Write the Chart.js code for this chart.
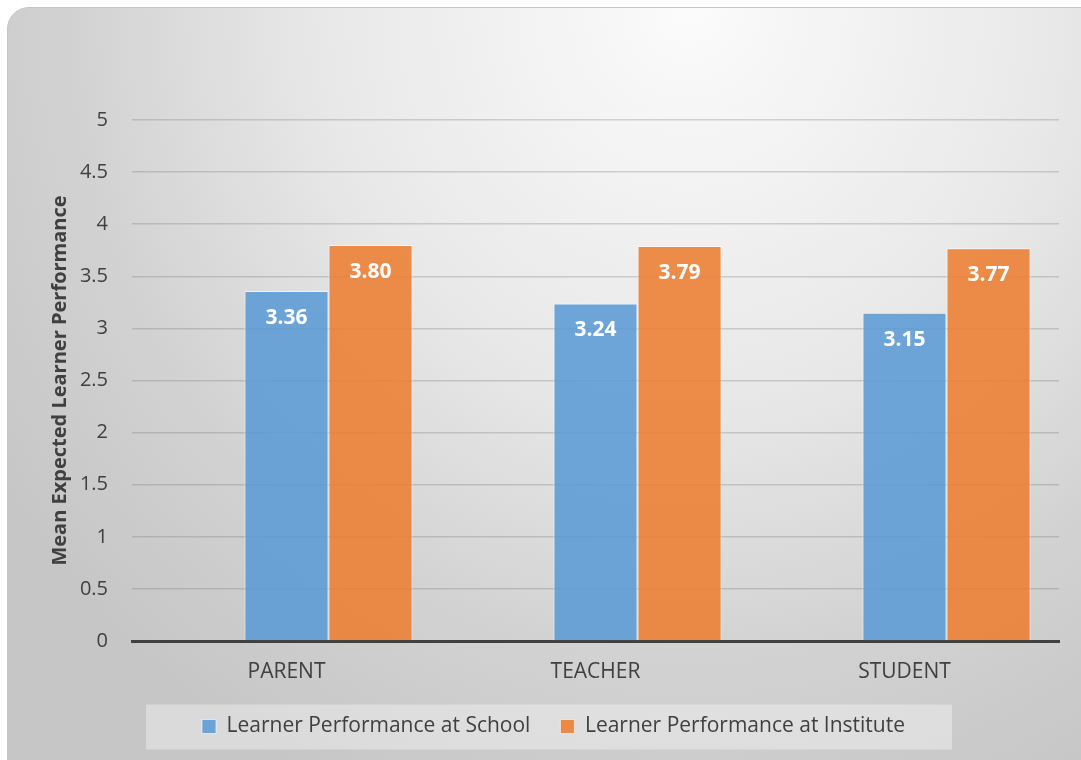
<!DOCTYPE html>
<html>
<head>
<meta charset="utf-8">
<script src="https://cdn.jsdelivr.net/npm/chart.js@4"></script>
<style>
    html, body { margin: 0; padding: 0; background: #fff; overflow: hidden; }
    #frame {
        position: absolute; left: 7px; top: 7px; width: 1100px; height: 790px;
        border: 1px solid #c4c4c4; border-radius: 22px;
        background: radial-gradient(ellipse 75% 110% at 62% 0%, #fbfbfb 0%, #e8e8e8 45%, #d2d2d2 75%, #c6c6c6 100%);
    }
    #wrap { position: absolute; left: 0; top: 0; width: 1081px; height: 760px; }
</style>
</head>
<body>
<div id="frame"></div>
<div id="wrap"><canvas id="chart"></canvas></div>
<script>
// 데이터
const categories = ['PARENT', 'TEACHER', 'STUDENT'];
const seriesNames = ['Learner Performance at School', 'Learner Performance at Institute'];
const schoolValues = [3.36, 3.24, 3.15];
const instituteValues = [3.80, 3.79, 3.77];
const emptyValues = [null, null, null]; // 원본의 빈 계열 (막대 위치 맞춤)
const yTicks = [0, 0.5, 1, 1.5, 2, 2.5, 3, 3.5, 4, 4.5, 5];

const FONT = '"Open Sans", sans-serif';

// 막대 안쪽 상단 값 표시
const valueLabels = {
    id: 'valueLabels',
    afterDatasetsDraw(chart) {
        const ctx = chart.ctx;
        ctx.save();
        ctx.fillStyle = '#ffffff';
        ctx.font = 'bold 21px ' + FONT;
        ctx.textAlign = 'center';
        ctx.textBaseline = 'middle';
        chart.data.datasets.forEach((ds, i) => {
            if (!ds.showValues) return;
            chart.getDatasetMeta(i).data.forEach((bar, j) => {
                if (ds.data[j] == null) return;
                ctx.fillText(ds.data[j].toFixed(2), bar.x, bar.y + 27);
            });
        });
        ctx.restore();
    }
};

// 범례 배경 상자
const legendBox = {
    id: 'legendBox',
    beforeDraw(chart) {
        const lg = chart.legend;
        if (!lg || !lg.legendHitBoxes.length) return;
        const boxes = lg.legendHitBoxes;
        const cy = boxes[0].top + boxes[0].height / 2;
        const left = boxes[0].left - 56;
        const right = boxes[boxes.length - 1].left + boxes[boxes.length - 1].width + 47;
        const ctx = chart.ctx;
        ctx.save();
        ctx.fillStyle = 'rgba(255,255,255,0.35)';
        ctx.fillRect(left, cy - 22, right - left, 45);
        ctx.restore();
    }
};

new Chart(document.getElementById('chart').getContext('2d'), {
    type: 'bar',
    data: {
        labels: categories,
        datasets: [
            {
                label: '',
                data: emptyValues,
                backgroundColor: 'rgba(0,0,0,0)',
                showValues: false,
            },
            {
                label: seriesNames[0],
                data: schoolValues,
                backgroundColor: 'rgba(91,155,213,0.88)',
                borderColor: 'rgba(255,255,255,0.6)',
                borderWidth: 1,
                showValues: true,
            },
            {
                label: seriesNames[1],
                data: instituteValues,
                backgroundColor: 'rgba(237,125,49,0.88)',
                borderColor: 'rgba(255,255,255,0.6)',
                borderWidth: 1,
                showValues: true,
            }
        ]
    },
    options: {
        responsive: true,
        maintainAspectRatio: false,
        animation: false,
        categoryPercentage: 0.816,
        barPercentage: 1.0,
        layout: {
            padding: { top: 120, right: 22, left: 48, bottom: 13 }
        },
        plugins: {
            legend: {
                position: 'bottom',
                labels: {
                    filter: item => item.text !== '',
                    boxWidth: 14,
                    boxHeight: 14,
                    padding: 30,
                    color: '#404040',
                    font: { family: FONT, size: 21 },
                    generateLabels(chart) {
                        const items = Chart.defaults.plugins.legend.labels.generateLabels(chart);
                        items.forEach(it => { it.strokeStyle = 'rgba(255,255,255,0.6)'; it.lineWidth = 1; });
                        return items;
                    }
                }
            },
            tooltip: { enabled: false }
        },
        scales: {
            x: {
                grid: { display: false },
                border: { color: '#404040', width: 3 },
                ticks: {
                    color: '#404040',
                    padding: 10,
                    font: { family: FONT, size: 21 }
                },
                afterFit(scale) { scale.height = 45; }
            },
            y: {
                min: 0,
                max: 5,
                afterBuildTicks(scale) { scale.ticks = yTicks.map(v => ({ value: v })); },
                grid: {
                    color: 'rgba(110,110,110,0.28)',
                    lineWidth: 1.5,
                    drawTicks: false
                },
                border: { display: false },
                ticks: {
                    color: '#404040',
                    padding: 24,
                    font: { family: FONT, size: 20 },
                    callback: v => String(v)
                },
                title: {
                    display: true,
                    text: 'Mean Expected Learner Performance',
                    color: '#404040',
                    font: { family: FONT, size: 20, weight: 'bold' },
                    padding: { top: 0, bottom: 0 }
                },
                afterFit(scale) { scale.width = 84; }
            }
        }
    },
    plugins: [valueLabels, legendBox]
});
</script>
</body>
</html>
